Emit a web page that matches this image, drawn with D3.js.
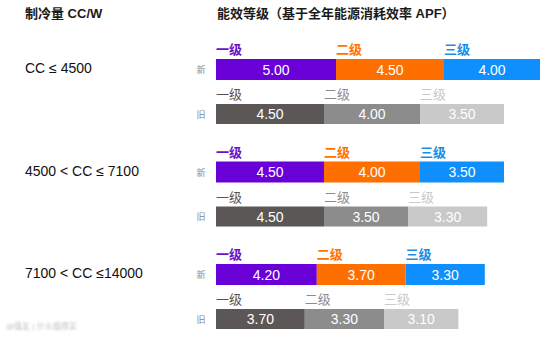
<!DOCTYPE html>
<html>
<head>
<meta charset="utf-8">
<script src="https://cdn.jsdelivr.net/npm/d3@7/dist/d3.min.js"></script>
<style>
  html, body { margin: 0; padding: 0; background: #fff; }
  svg { display: block; font-family: "Liberation Sans", "Noto Sans CJK SC", sans-serif; }
</style>
</head>
<body>
<div id="chart"></div>
<script>
// Cooling capacity bands
const categories = ["CC ≤ 4500", "4500 < CC ≤ 7100", "7100 < CC ≤14000"];
// Efficiency grades
const grades = ["一级", "二级", "三级"];
// Rows: new standard and old standard
const rowLabels = ["新", "旧"];
// APF thresholds, new standard, per band (grade 1..3)
const newValues = [
  [5.00, 4.50, 4.00],
  [4.50, 4.00, 3.50],
  [4.20, 3.70, 3.30]
];
// APF thresholds, old standard, per band (grade 1..3)
const oldValues = [
  [4.50, 4.00, 3.50],
  [4.50, 3.50, 3.30],
  [3.70, 3.30, 3.10]
];

const W = 554, H = 340;
const svg = d3.select("#chart").append("svg").attr("width", W).attr("height", H);

const newFill = ["#6a00d8", "#ff6f00", "#0f8ffd"];
const newText = ["#6b12c9", "#ff7200", "#1a8de6"];
const oldFill = ["#5c5757", "#8c8c8c", "#c9c9c9"];
const oldText = ["#575252", "#8c8c8c", "#c9c9c9"];

// Horizontal value scale: segments stacked end to end
const x = d3.scaleLinear().domain([0, 13.5]).range([216, 540]);
// Vertical position of each band's group
const gy = d3.scaleLinear().domain([0, 2]).range([59, 264]);
const barH = [21, 20];
const rowOffset = [0, 45];

// Headers
svg.append("text").attr("x", 25).attr("y", 18)
  .attr("font-size", 13).attr("font-weight", 700).attr("fill", "#1a1a1a")
  .text("制冷量 CC/W");
svg.append("text").attr("x", 217).attr("y", 18)
  .attr("font-size", 13).attr("font-weight", 700).attr("fill", "#1a1a1a")
  .text("能效等级（基于全年能源消耗效率 APF）");

categories.forEach((cat, i) => {
  const top = gy(i);
  svg.append("text").attr("x", 25).attr("y", top + 14)
    .attr("font-size", 14).attr("font-weight", 500).attr("fill", "#111")
    .text(cat);

  [newValues[i], oldValues[i]].forEach((vals, r) => {
    const y0 = top + rowOffset[r];
    const h = barH[r];
    const starts = [0];
    vals.forEach((v, k) => starts.push(starts[k] + v));
    const fills = r === 0 ? newFill : oldFill;
    const tcols = r === 0 ? newText : oldText;

    svg.append("text").attr("x", 201).attr("y", y0 + h / 2 + 3.5)
      .attr("text-anchor", "middle").attr("font-size", 9).attr("fill", "#8a8a8a")
      .text(rowLabels[r]);

    const g = svg.append("g");
    g.selectAll("rect").data(vals).join("rect")
      .attr("x", (d, k) => x(starts[k]))
      .attr("y", y0)
      .attr("width", (d, k) => x(starts[k] + d) - x(starts[k]))
      .attr("height", h)
      .attr("fill", (d, k) => fills[k]);

    g.selectAll("text.val").data(vals).join("text").attr("class", "val")
      .attr("x", (d, k) => (x(starts[k]) + x(starts[k] + d)) / 2)
      .attr("y", y0 + h / 2 + 5)
      .attr("text-anchor", "middle").attr("font-size", 14).attr("fill", "#fff")
      .text(d => d.toFixed(2));

    g.selectAll("text.grade").data(grades).join("text").attr("class", "grade")
      .attr("x", (d, k) => x(starts[k]))
      .attr("y", y0 - 5)
      .attr("font-size", 13)
      .attr("font-weight", r === 0 ? 700 : 400)
      .attr("fill", (d, k) => tcols[k])
      .text(d => d);
  });
});

// Faint source mark, bottom left
const defs = svg.append("defs");
defs.append("filter").attr("id", "soft")
  .append("feGaussianBlur").attr("stdDeviation", 0.9);
svg.append("text").attr("x", 6).attr("y", 329)
  .attr("font-size", 8).attr("fill", "#bdbdbd").attr("filter", "url(#soft)")
  .text("@值友 | 什么值得买");
</script>
</body>
</html>
